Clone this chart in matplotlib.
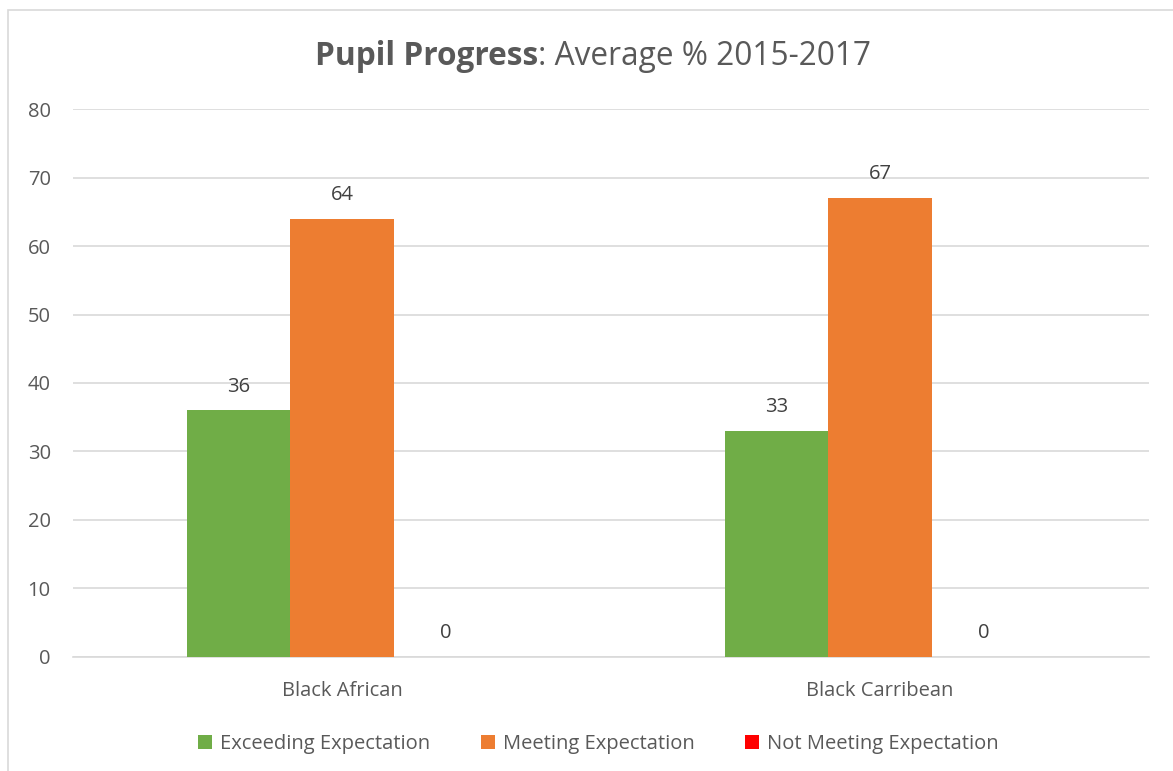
import matplotlib.pyplot as plt
import numpy as np
from matplotlib.patches import Rectangle

plt.rcParams['font.family'] = ['Open Sans', 'DejaVu Sans']

categories = ['Black African', 'Black Carribean']
exceeding = [36, 33]
meeting = [64, 67]
not_meeting = [0, 0]
series = ['Exceeding Expectation', 'Meeting Expectation', 'Not Meeting Expectation']
colors = ['#70AD47', '#ED7D31', '#FF0000']
yticks = [0, 10, 20, 30, 40, 50, 60, 70, 80]

txt = '#595959'
fig = plt.figure(figsize=(11.73, 7.71), dpi=100)
ax = fig.add_axes([0.0622, 0.1479, 0.9173, 0.7107])

x = np.arange(len(categories)) + 0.5
w = 0.192
for i, (vals, c, name) in enumerate(zip([exceeding, meeting, not_meeting], colors, series)):
    bars = ax.bar(x + (i - 1) * w, vals, w, color=c, label=name, zorder=3)
    for b, v in zip(bars, vals):
        ax.text(b.get_x() + b.get_width() / 2, v + 2.0, str(v), ha='center', va='bottom',
                fontsize=14.5, color='#404040')

ax.set_xlim(0, 2)
ax.set_ylim(0, 80)
ax.set_yticks(yticks)
ax.set_xticks(x)
ax.set_xticklabels(categories)
ax.grid(axis='y', color='#D9D9D9', linewidth=1.2, zorder=0)
for s in ['top', 'right', 'left']:
    ax.spines[s].set_visible(False)
ax.spines['bottom'].set_color('#D9D9D9')
ax.spines['bottom'].set_linewidth(1.2)
ax.tick_params(length=0, labelsize=14.5, colors=txt)
ax.tick_params(axis='y', pad=16)
ax.tick_params(axis='x', pad=17)

# title: bold part + regular part, centred together
t1 = fig.text(0.5, 0.927, 'Pupil Progress', ha='left', va='center', fontsize=22.8,
              color=txt, fontweight='bold')
t2 = fig.text(0.5, 0.927, ': Average % 2015-2017', ha='left', va='center', fontsize=22.8, color=txt)
fig.canvas.draw()
w1 = t1.get_window_extent().width
w2 = t2.get_window_extent().width
x0 = 593 / 1173 - (w1 + w2) / 2 / fig.bbox.width
t1.set_x(x0)
t2.set_x(x0 + w1 / fig.bbox.width)

fig.legend(loc='lower center', bbox_to_anchor=(0.51, -0.002), ncol=3, frameon=False,
           fontsize=14.5, labelcolor=txt, handlelength=0.7, handleheight=0.7,
           handletextpad=0.4, columnspacing=2.5)

fig.patches.append(Rectangle((0.007, -0.1), 1.2, 1.087, transform=fig.transFigure,
                             fill=False, edgecolor='#D9D9D9', linewidth=1.2))

fig.savefig('out.png', dpi=100)
